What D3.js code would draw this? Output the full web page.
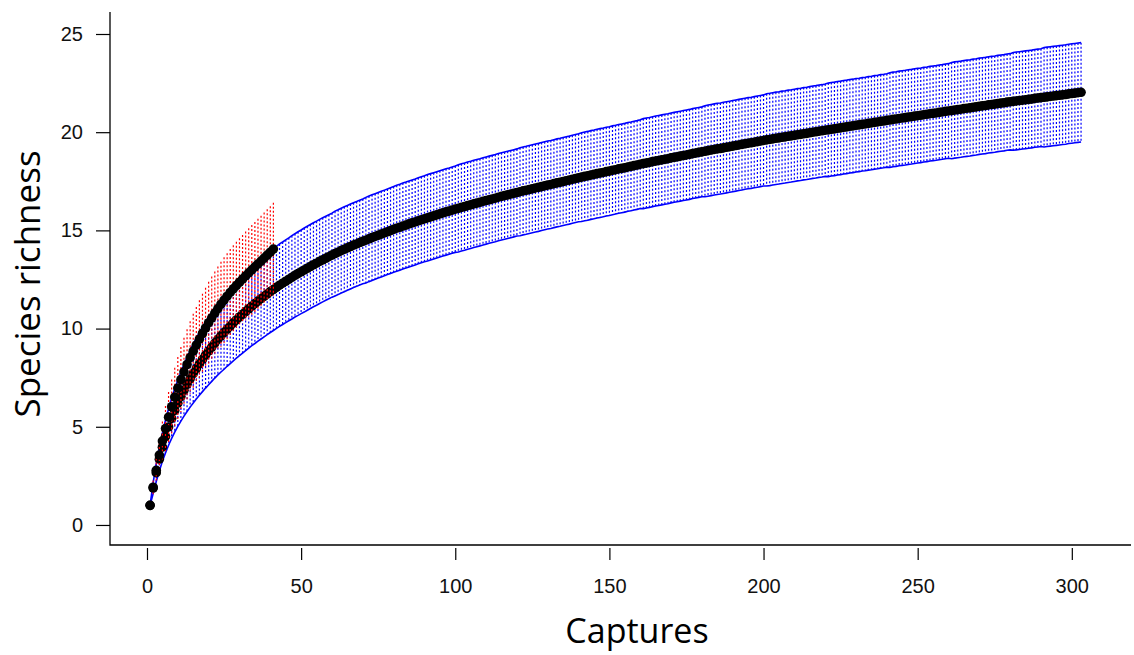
<!DOCTYPE html>
<meta charset="utf-8">
<html>
<head>
<title>Species richness</title>
<style>
  body { margin: 0; background: #fff; }
  .title { font-family: "Open Sans", sans-serif; fill: #000; }
</style>
</head>
<body>
<div id="viz"></div>
<script src="https://cdnjs.cloudflare.com/ajax/libs/d3/7.8.5/d3.min.js"></script>
<script>
// tick labels
var xTicks = [0, 50, 100, 150, 200, 250, 300];
var yTicks = [0, 5, 10, 15, 20, 25];

// big sample: mean rarefied richness at 1..303 captures
var blueMean = [
  1.00, 1.88, 2.66, 3.35, 3.96, 4.50, 4.99, 5.43, 5.83, 6.20,
  6.54, 6.86, 7.16, 7.44, 7.71, 7.96, 8.20, 8.43, 8.65, 8.86,
  9.06, 9.26, 9.45, 9.63, 9.80, 9.97, 10.13, 10.29, 10.44, 10.59,
  10.73, 10.87, 11.01, 11.14, 11.27, 11.40, 11.52, 11.64, 11.76, 11.88,
  11.99, 12.10, 12.21, 12.31, 12.41, 12.51, 12.61, 12.71, 12.80, 12.89,
  12.98, 13.07, 13.16, 13.25, 13.33, 13.42, 13.50, 13.58, 13.66, 13.74,
  13.82, 13.89, 13.97, 14.04, 14.11, 14.18, 14.25, 14.31, 14.38, 14.44,
  14.50, 14.57, 14.63, 14.69, 14.75, 14.81, 14.87, 14.93, 14.99, 15.05,
  15.11, 15.16, 15.22, 15.27, 15.33, 15.38, 15.43, 15.49, 15.54, 15.59,
  15.64, 15.69, 15.74, 15.79, 15.84, 15.89, 15.94, 15.98, 16.03, 16.08,
  16.12, 16.17, 16.21, 16.26, 16.30, 16.35, 16.39, 16.43, 16.48, 16.52,
  16.56, 16.60, 16.64, 16.69, 16.73, 16.77, 16.81, 16.85, 16.89, 16.93,
  16.97, 17.01, 17.04, 17.08, 17.12, 17.16, 17.19, 17.23, 17.27, 17.31,
  17.34, 17.38, 17.42, 17.45, 17.49, 17.53, 17.56, 17.60, 17.64, 17.68,
  17.71, 17.75, 17.78, 17.82, 17.85, 17.89, 17.92, 17.95, 17.99, 18.02,
  18.06, 18.09, 18.13, 18.16, 18.19, 18.23, 18.26, 18.30, 18.33, 18.37,
  18.40, 18.43, 18.46, 18.50, 18.53, 18.56, 18.59, 18.62, 18.65, 18.69,
  18.72, 18.75, 18.78, 18.81, 18.84, 18.87, 18.91, 18.94, 18.97, 19.00,
  19.03, 19.06, 19.09, 19.12, 19.15, 19.17, 19.20, 19.23, 19.26, 19.29,
  19.32, 19.35, 19.38, 19.41, 19.44, 19.46, 19.49, 19.52, 19.55, 19.58,
  19.61, 19.63, 19.66, 19.69, 19.71, 19.74, 19.76, 19.79, 19.81, 19.84,
  19.87, 19.89, 19.92, 19.94, 19.97, 20.00, 20.02, 20.05, 20.07, 20.10,
  20.12, 20.15, 20.17, 20.20, 20.22, 20.25, 20.27, 20.30, 20.32, 20.35,
  20.37, 20.40, 20.42, 20.45, 20.47, 20.50, 20.52, 20.55, 20.57, 20.60,
  20.62, 20.65, 20.67, 20.70, 20.72, 20.74, 20.77, 20.79, 20.82, 20.84,
  20.86, 20.89, 20.91, 20.94, 20.96, 20.98, 21.01, 21.03, 21.06, 21.08,
  21.10, 21.13, 21.15, 21.17, 21.20, 21.22, 21.24, 21.27, 21.29, 21.32,
  21.34, 21.36, 21.39, 21.41, 21.43, 21.46, 21.48, 21.50, 21.53, 21.55,
  21.57, 21.59, 21.61, 21.63, 21.65, 21.67, 21.69, 21.72, 21.74, 21.76,
  21.78, 21.80, 21.82, 21.84, 21.86, 21.88, 21.90, 21.92, 21.95, 21.97,
  21.99, 22.01, 22.03
];

// half height of the blue band at each capture count
var blueCiHalf = [
  0, 0.28, 0.45, 0.60, 0.72, 0.83, 0.93, 1.02, 1.10, 1.18,
  1.25, 1.32, 1.38, 1.44, 1.50, 1.55, 1.60, 1.64, 1.68, 1.72,
  1.75, 1.78, 1.81, 1.84, 1.87, 1.89, 1.91, 1.93, 1.95, 1.97,
  1.98, 1.99, 2.00, 2.01, 2.03, 2.04, 2.05, 2.06, 2.07, 2.08,
  2.09, 2.09, 2.10, 2.10, 2.11, 2.11, 2.12, 2.12, 2.13, 2.13,
  2.14, 2.14, 2.14, 2.14, 2.14, 2.14, 2.14, 2.14, 2.14, 2.14,
  2.16, 2.16, 2.16, 2.16, 2.16, 2.16, 2.16, 2.16, 2.16, 2.16,
  2.18, 2.18, 2.18, 2.18, 2.18, 2.18, 2.18, 2.18, 2.18, 2.18,
  2.19, 2.19, 2.19, 2.19, 2.19, 2.19, 2.19, 2.19, 2.19, 2.19,
  2.20, 2.20, 2.20, 2.20, 2.20, 2.20, 2.20, 2.20, 2.20, 2.20,
  2.22, 2.22, 2.22, 2.22, 2.22, 2.22, 2.22, 2.22, 2.22, 2.22,
  2.22, 2.22, 2.22, 2.22, 2.22, 2.22, 2.22, 2.22, 2.22, 2.22,
  2.24, 2.24, 2.24, 2.24, 2.24, 2.24, 2.24, 2.24, 2.24, 2.24,
  2.24, 2.24, 2.24, 2.24, 2.24, 2.24, 2.24, 2.24, 2.24, 2.24,
  2.26, 2.26, 2.26, 2.26, 2.26, 2.26, 2.26, 2.26, 2.26, 2.26,
  2.26, 2.26, 2.26, 2.26, 2.26, 2.26, 2.26, 2.26, 2.26, 2.26,
  2.29, 2.29, 2.29, 2.29, 2.29, 2.29, 2.29, 2.29, 2.29, 2.29,
  2.29, 2.29, 2.29, 2.29, 2.29, 2.29, 2.29, 2.29, 2.29, 2.29,
  2.32, 2.32, 2.32, 2.32, 2.32, 2.32, 2.32, 2.32, 2.32, 2.32,
  2.32, 2.32, 2.32, 2.32, 2.32, 2.32, 2.32, 2.32, 2.32, 2.32,
  2.35, 2.35, 2.35, 2.35, 2.35, 2.35, 2.35, 2.35, 2.35, 2.35,
  2.35, 2.35, 2.35, 2.35, 2.35, 2.35, 2.35, 2.35, 2.35, 2.35,
  2.38, 2.38, 2.38, 2.38, 2.38, 2.38, 2.38, 2.38, 2.38, 2.38,
  2.38, 2.38, 2.38, 2.38, 2.38, 2.38, 2.38, 2.38, 2.38, 2.38,
  2.41, 2.41, 2.41, 2.41, 2.41, 2.41, 2.41, 2.41, 2.41, 2.41,
  2.41, 2.41, 2.41, 2.41, 2.41, 2.41, 2.41, 2.41, 2.41, 2.41,
  2.45, 2.45, 2.45, 2.45, 2.45, 2.45, 2.45, 2.45, 2.45, 2.45,
  2.45, 2.45, 2.45, 2.45, 2.45, 2.45, 2.45, 2.45, 2.45, 2.45,
  2.49, 2.49, 2.49, 2.49, 2.49, 2.49, 2.49, 2.49, 2.49, 2.49,
  2.53, 2.53, 2.53, 2.53, 2.53, 2.53, 2.53, 2.53, 2.53, 2.53,
  2.53, 2.53, 2.53
];

// small sample: 1..41 captures
var redMean = [
  1.00, 1.92, 2.78, 3.56, 4.27, 4.91, 5.49, 6.02, 6.51, 6.97,
  7.40, 7.80, 8.17, 8.52, 8.85, 9.16, 9.46, 9.75, 10.03, 10.30,
  10.55, 10.79, 11.02, 11.24, 11.45, 11.65, 11.84, 12.02, 12.19, 12.36,
  12.52, 12.68, 12.84, 12.99, 13.14, 13.29, 13.44, 13.59, 13.74, 13.89,
  14.05
];
var redCiHalf = [
  0, 0.35, 0.60, 0.82, 1.00, 1.15, 1.28, 1.39, 1.49, 1.58,
  1.66, 1.73, 1.79, 1.85, 1.90, 1.94, 1.98, 2.02, 2.05, 2.08,
  2.10, 2.12, 2.14, 2.16, 2.18, 2.19, 2.21, 2.22, 2.23, 2.24,
  2.25, 2.26, 2.27, 2.28, 2.29, 2.30, 2.31, 2.32, 2.33, 2.34,
  2.36
];

var blue = blueMean.map(function (m, i) { return { n: i + 1, m: m, h: blueCiHalf[i] }; });
var red = redMean.map(function (m, i) { return { n: i + 1, m: m, h: redCiHalf[i] }; });

var svg = d3.select("#viz")
    .append("svg")
    .attr("width", 1134)
    .attr("height", 655);

var x = d3.scaleLinear().domain([-12, 319.2]).range([110, 1131]);
var y = d3.scaleLinear().domain([-1.02, 26.12]).range([545, 12]);

// L-shaped frame
svg.append("path")
    .attr("d", "M" + x.range()[0] + "," + y.range()[1] + "V" + y.range()[0] + "H" + x.range()[1])
    .attr("fill", "none")
    .attr("stroke", "#000")
    .attr("stroke-width", 1.3);

var yAxis = svg.append("g")
    .attr("transform", "translate(110,0)")
    .call(d3.axisLeft(y).tickValues(yTicks).tickSize(14).tickPadding(13));
yAxis.select(".domain").remove();
yAxis.attr("font-size", 20).attr("font-family", "'Liberation Sans', Arial, sans-serif");
yAxis.selectAll("line").attr("stroke", "#000").attr("stroke-width", 1.2);
yAxis.selectAll("text").attr("fill", "#111");

var xAxis = svg.append("g")
    .attr("transform", "translate(0,548)")
    .call(d3.axisBottom(x).tickValues(xTicks).tickSize(12).tickPadding(19));
xAxis.select(".domain").remove();
xAxis.attr("font-size", 20).attr("font-family", "'Liberation Sans', Arial, sans-serif");
xAxis.selectAll("line").attr("stroke", "#000").attr("stroke-width", 1.2);
xAxis.selectAll("text").attr("fill", "#111");

function drawBand(data, colour, edges) {
    svg.append("g")
        .selectAll("line")
        .data(data.filter(function (d) { return d.h > 0; }))
        .enter()
        .append("line")
        .attr("x1", function (d) { return x(d.n); })
        .attr("x2", function (d) { return x(d.n); })
        .attr("y1", function (d) { return y(d.m + d.h); })
        .attr("y2", function (d) { return y(d.m - d.h); })
        .attr("stroke", colour)
        .attr("stroke-width", 1.2)
        .attr("stroke-dasharray", "2,2");

    if (edges) {
        var up = d3.line().x(function (d) { return x(d.n); }).y(function (d) { return y(d.m + d.h); });
        var lo = d3.line().x(function (d) { return x(d.n); }).y(function (d) { return y(d.m - d.h); });
        svg.append("path").attr("d", up(data)).attr("fill", "none").attr("stroke", colour).attr("stroke-width", 1.6);
        svg.append("path").attr("d", lo(data)).attr("fill", "none").attr("stroke", colour).attr("stroke-width", 1.6);
    }
}

function drawPoints(data) {
    svg.append("g")
        .selectAll("circle")
        .data(data)
        .enter()
        .append("circle")
        .attr("cx", function (d) { return x(d.n); })
        .attr("cy", function (d) { return y(d.m); })
        .attr("r", 4.8)
        .attr("fill", "#000");
}

drawBand(blue, "#0000ff", true);
drawPoints(blue);
drawBand(red, "#ff0000", false);
drawPoints(red);

svg.append("text")
    .attr("class", "title")
    .attr("transform", "translate(40,284) rotate(-90)")
    .attr("text-anchor", "middle")
    .attr("font-size", 35)
    .text("Species richness");

svg.append("text")
    .attr("class", "title")
    .attr("x", 637)
    .attr("y", 643)
    .attr("text-anchor", "middle")
    .attr("font-size", 34)
    .text("Captures");
</script>
</body>
</html>
